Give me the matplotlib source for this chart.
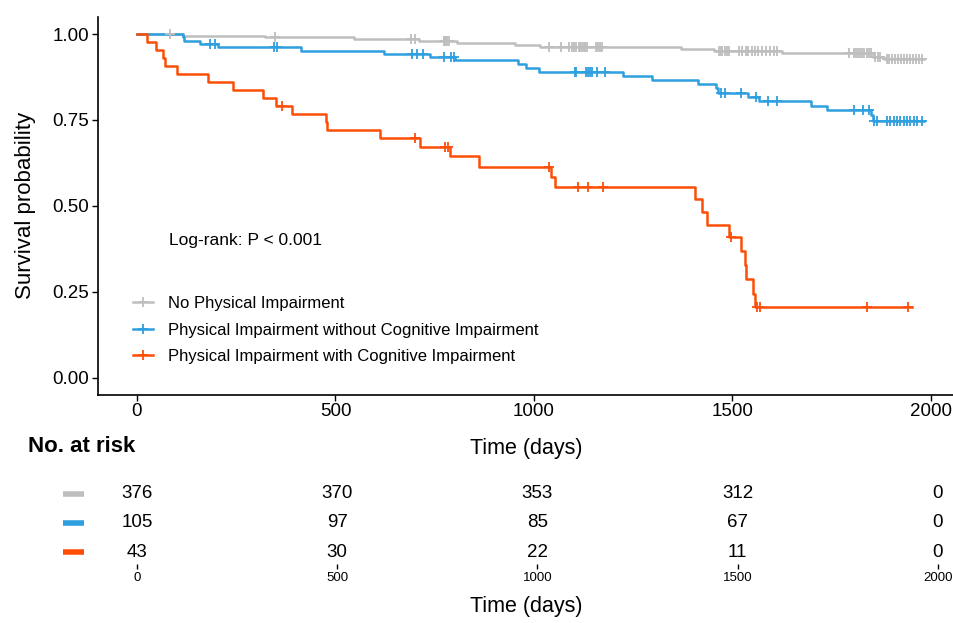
import matplotlib.pyplot as plt
import numpy as np
from matplotlib.lines import Line2D

plt.rcParams["font.family"] = ["Liberation Sans", "DejaVu Sans"]

# ---- data ----
labels = ["No Physical Impairment",
          "Physical Impairment without Cognitive Impairment",
          "Physical Impairment with Cognitive Impairment"]
colors = ["#BEBEBE", "#2E9FDF", "#FC4E07"]

gray_event_days = [115, 323, 546, 710, 806, 953, 1016, 1370, 1453, 1626, 1855, 1882]
gray_surv = [0.995, 0.992, 0.986, 0.980, 0.973, 0.968, 0.961, 0.957, 0.952, 0.944, 0.934, 0.927]
gray_censor = [83, 348, 689, 701, 773, 776, 779, 782, 785, 1039, 1069, 1088, 1095, 1100,
               1107, 1113, 1117, 1121, 1125, 1129, 1133, 1157, 1162, 1167, 1172, 1466,
               1470, 1474, 1480, 1486, 1492, 1517, 1525, 1533, 1540, 1548, 1556, 1565,
               1575, 1585, 1595, 1605, 1613, 1794, 1807, 1812, 1817, 1822, 1827, 1832,
               1838, 1843, 1849, 1860, 1866, 1872, 1888, 1895, 1902, 1910, 1918, 1925,
               1932, 1940, 1948, 1955, 1962, 1970, 1978]
gray_end = 1982

blue_event_days = [115, 119, 159, 203, 414, 623, 739, 802, 960, 981, 1012, 1225, 1298,
                   1414, 1458, 1464, 1538, 1567, 1697, 1738, 1849, 1855]
blue_surv = [0.990, 0.981, 0.971, 0.962, 0.952, 0.943, 0.933, 0.923, 0.912, 0.901, 0.890,
             0.879, 0.866, 0.854, 0.842, 0.829, 0.816, 0.805, 0.791, 0.778, 0.764, 0.748]
blue_censor = [184, 197, 344, 352, 693, 705, 720, 773, 792, 798, 1104, 1107, 1132, 1137,
               1141, 1147, 1159, 1178, 1470, 1480, 1522, 1559, 1590, 1613, 1807, 1828,
               1843, 1857, 1864, 1889, 1898, 1906, 1915, 1923, 1932, 1940, 1948, 1957,
               1965, 1978]
blue_end = 1982

red_event_days = [24, 48, 65, 71, 100, 180, 243, 317, 350, 390, 476, 479, 611, 714, 788,
                  862, 1042, 1054, 1405, 1422, 1437, 1491, 1521, 1532, 1535, 1552, 1556]
red_surv = [0.977, 0.953, 0.930, 0.907, 0.884, 0.860, 0.837, 0.814, 0.791, 0.767, 0.744,
            0.721, 0.697, 0.672, 0.645, 0.614, 0.585, 0.556, 0.519, 0.482, 0.445, 0.410,
            0.370, 0.327, 0.288, 0.244, 0.205]
red_censor = [365, 701, 775, 784, 1037, 1111, 1136, 1174, 1496, 1563, 1569, 1840, 1941]
red_end = 1951

risk_times = [0, 500, 1000, 1500, 2000]
risk_gray = [376, 370, 353, 312, 0]
risk_blue = [105, 97, 85, 67, 0]
risk_red = [43, 30, 22, 11, 0]

curves = [
    (gray_event_days, gray_surv, gray_censor, gray_end),
    (blue_event_days, blue_surv, blue_censor, blue_end),
    (red_event_days, red_surv, red_censor, red_end),
]

fig = plt.figure(figsize=(9.54, 6.23), dpi=100)

# main survival panel
ax = fig.add_axes([0.1024, 0.366, 0.8976, 0.607])
for (ev, sv, cen, end), col in zip(curves, colors):
    t = np.r_[0, ev, end]
    s = np.r_[1.0, sv, sv[-1]]
    ax.step(t, s, where="post", color=col, lw=1.8, zorder=3)
    # censor marks sit on the curve level at that time
    idx = np.searchsorted(ev, cen, side="right")
    cy = np.r_[1.0, sv][idx]
    ax.plot(cen, cy, ls="none", marker="+", ms=7, mew=1.3, color=col, zorder=4)

ax.set_xlim(-99, 2058)
ax.set_ylim(-0.05, 1.05)
ax.set_xticks([0, 500, 1000, 1500, 2000])
ax.set_yticks([0, 0.25, 0.5, 0.75, 1.0])
ax.set_yticklabels(["0.00", "0.25", "0.50", "0.75", "1.00"])
ax.tick_params(labelsize=13.5, length=4, width=1, colors="black", pad=2)
for sp in ["top", "right"]:
    ax.spines[sp].set_visible(False)
for sp in ["left", "bottom"]:
    ax.spines[sp].set_linewidth(1.2)
ax.set_ylabel("Survival probability", fontsize=16, labelpad=12)
ax.set_xlabel("Time (days)", fontsize=15.5, labelpad=13)

ax.text(80, 0.40, "Log-rank: P < 0.001", fontsize=12.5, va="center", ha="left")

handles = [Line2D([], [], color=c, lw=1.8, marker="+", ms=7, mew=1.3) for c in colors]
ax.legend(handles, labels, loc="upper left", bbox_to_anchor=(0.041, 0.262),
          frameon=False, fontsize=12, handlelength=1.2, handletextpad=0.9,
          labelspacing=0.7, borderpad=0, borderaxespad=0)

# number at risk table
ax2 = fig.add_axes([0.1024, 0.0947, 0.8976, 0.1413])
ax2.set_xlim(-98, 2040)
ax2.set_ylim(0.59, 3.61)
for row, (vals, col) in enumerate(zip([risk_gray, risk_blue, risk_red], colors)):
    y = 3 - row
    for t, n in zip(risk_times, vals):
        ax2.text(t, y, str(n), ha="center", va="center", fontsize=13.5)
    ax2.plot([-184, -131], [y, y], color=col, lw=4, solid_capstyle="butt", clip_on=False)

for sp in ax2.spines.values():
    sp.set_visible(False)
ax2.set_yticks([])
ax2.set_xticks(risk_times)
ax2.tick_params(axis="x", labelsize=9.5, length=3.5, width=1, pad=2)
ax2.set_xlabel("Time (days)", fontsize=15.5, labelpad=9)

fig.text(0.029, 1 - 446 / 623, "No. at risk", fontsize=16, fontweight="bold",
         ha="left", va="center")

fig.savefig("out.png", dpi=100)
